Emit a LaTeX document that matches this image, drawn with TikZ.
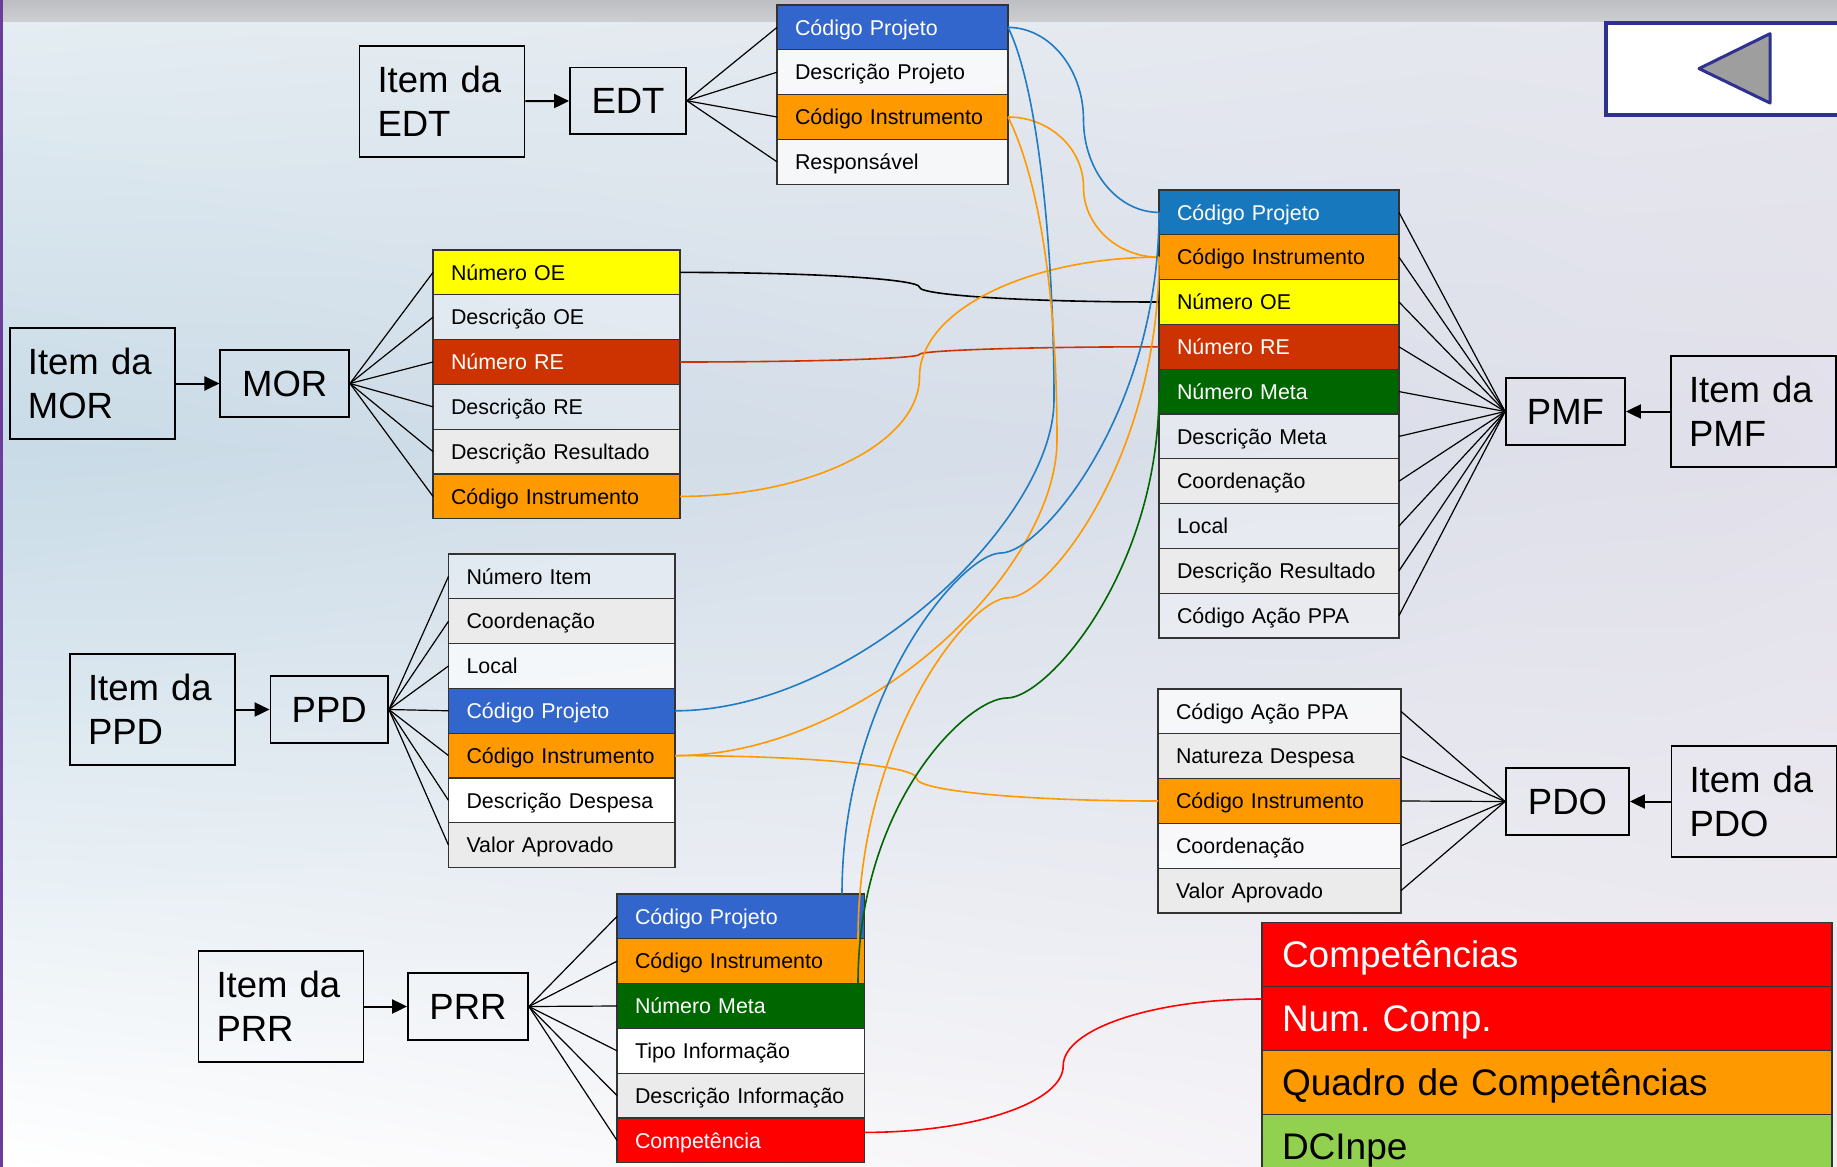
\documentclass[tikz,border=0pt]{standalone}
\usepackage{fontspec}
\setmainfont{Liberation Sans}
\usetikzlibrary{arrows.meta,shadings}
\frenchspacing
\definecolor{cpblue}{HTML}{3366CC}
\definecolor{pmfblue}{HTML}{1878BE}
\definecolor{cblue}{HTML}{1F7BC2}
\definecolor{corange}{HTML}{FF9900}
\definecolor{cyellow}{HTML}{FFFF00}
\definecolor{cre}{HTML}{CC3300}
\definecolor{cgreen}{HTML}{006600}
\definecolor{cred}{HTML}{FF0000}
\definecolor{clime}{HTML}{92D050}
\definecolor{lgray}{HTML}{EBEBEB}
\definecolor{rowline}{HTML}{333333}
\definecolor{navy}{HTML}{2E3192}
\definecolor{bgA}{HTML}{E4EDF2}
\definecolor{bgB}{HTML}{E6E6EE}
\definecolor{bgC}{HTML}{C8DBE7}
\definecolor{bgD}{HTML}{E2E0EA}
\definecolor{bgE}{HTML}{F1EEF3}
\definecolor{bandA}{HTML}{BDBEC2}
\definecolor{bandB}{HTML}{CDCED2}
\definecolor{purp}{HTML}{6A3D9A}
\newcommand\rowfont{\fontsize{21.4}{25}\selectfont}
\newcommand\bigfont{\fontsize{36.5}{44.5}\selectfont}
\newcommand\compfont{\fontsize{37}{44}\selectfont}
\begin{document}
\begin{tikzpicture}[x=1pt,y=-1pt,
  row/.style={draw=rowline, line width=1.2pt, rectangle, anchor=north west, outer sep=0pt,
    inner xsep=18pt, inner ysep=0pt, minimum height=44.8pt, text width=#1, align=left,
    text height=15.3pt, text depth=0pt, font=\rowfont},
  crow/.style={draw=rowline, line width=1.2pt, rectangle, anchor=north west, outer sep=0pt,
    inner xsep=20pt, inner ysep=0pt, minimum height=64pt, text width=530pt, align=left,
    text height=26.5pt, text depth=0pt, font=\compfont},
  tr/.style={fill=white, fill opacity=0.3, text opacity=1},
  lt/.style={fill=white, fill opacity=0.7, text opacity=1},
  itembox/.style={draw, line width=1.8pt, rectangle, minimum height=111pt, inner xsep=18pt,
    inner ysep=0pt, text width=129pt, align=left, font=\bigfont},
  mainbox/.style={draw, line width=1.8pt, rectangle, minimum width=#1, minimum height=66.5pt,
    inner xsep=0pt, text height=26.1pt, text depth=0pt, font=\bigfont},
  arr/.style={line width=2pt, -{Triangle[length=15pt,width=14pt]}},
  fan/.style={line width=1.2pt},
  conn/.style={line width=1.6pt}
]
\useasboundingbox (0,0) rectangle (1837,1167);
\clip (0,0) rectangle (1837,1167);
% background
\fill[white] (0,0) rectangle (1837,1167);
\shade[upper left=bgA, upper right=bgB, lower left=bgC, lower right=bgD] (0,21) rectangle (1837,450);
\shade[upper left=bgC, upper right=bgD, lower left=white, lower right=bgE] (0,450) rectangle (1837,1167);
\shade[top color=bandA, bottom color=bandB] (0,0) rectangle (1837,21);
\fill[purp] (0,0) rectangle (2.5,1167);

% back button
\draw[navy, line width=4pt, fill=white] (1606,22.7) rectangle (1870,114.5);
\draw[navy, line width=3pt, fill=black!38, line join=round] (1699,68.6) -- (1770,33.7) -- (1770,103) -- cycle;

% EDT table
\node[row=195pt, fill=cpblue, text=white] (eCP) at (777,5) {Código Projeto};
\node[row=195pt, lt] (eDP) at (eCP.south west) {Descrição Projeto};
\node[row=195pt, fill=corange] (eCI) at (eDP.south west) {Código Instrumento};
\node[row=195pt, lt] (eRS) at (eCI.south west) {Responsável};

% MOR table
\node[row=211pt, fill=cyellow] (mNOE) at (433,250) {Número OE};
\node[row=211pt, tr] (mDOE) at (mNOE.south west) {Descrição OE};
\node[row=211pt, fill=cre, text=white] (mNRE) at (mDOE.south west) {Número RE};
\node[row=211pt, tr] (mDRE) at (mNRE.south west) {Descrição RE};
\node[row=211pt, fill=lgray] (mDR) at (mDRE.south west) {Descrição Resultado};
\node[row=211pt, fill=corange] (mCI) at (mDR.south west) {Código Instrumento};

% PPD table
\node[row=190.5pt, tr] (dNI) at (448.5,554) {Número Item};
\node[row=190.5pt, fill=lgray] (dCO) at (dNI.south west) {Coordenação};
\node[row=190.5pt, lt] (dLO) at (dCO.south west) {Local};
\node[row=190.5pt, fill=cpblue, text=white] (dCP) at (dLO.south west) {Código Projeto};
\node[row=190.5pt, fill=corange] (dCI) at (dCP.south west) {Código Instrumento};
\node[row=190.5pt, fill=white] (dDD) at (dCI.south west) {Descrição Despesa};
\node[row=190.5pt, fill=lgray] (dVA) at (dDD.south west) {Valor Aprovado};

% PRR table
\node[row=211.5pt, fill=cpblue, text=white] (rCP) at (617,894) {Código Projeto};
\node[row=211.5pt, fill=corange] (rCI) at (rCP.south west) {Código Instrumento};
\node[row=211.5pt, fill=cgreen, text=white] (rNM) at (rCI.south west) {Número Meta};
\node[row=211.5pt, fill=white] (rTI) at (rNM.south west) {Tipo Informação};
\node[row=211.5pt, fill=lgray] (rDI) at (rTI.south west) {Descrição Informação};
\node[row=211.5pt, fill=cred, text=white] (rCOMP) at (rDI.south west) {Competência};

% PMF table
\node[row=204pt, fill=pmfblue, text=white] (pCP) at (1159,190) {Código Projeto};
\node[row=204pt, fill=corange] (pCI) at (pCP.south west) {Código Instrumento};
\node[row=204pt, fill=cyellow] (pNOE) at (pCI.south west) {Número OE};
\node[row=204pt, fill=cre, text=white] (pNRE) at (pNOE.south west) {Número RE};
\node[row=204pt, fill=cgreen, text=white] (pNM) at (pNRE.south west) {Número Meta};
\node[row=204pt, tr] (pDM) at (pNM.south west) {Descrição Meta};
\node[row=204pt, fill=lgray] (pCO) at (pDM.south west) {Coordenação};
\node[row=204pt, tr] (pLO) at (pCO.south west) {Local};
\node[row=204pt, fill=lgray] (pDR) at (pLO.south west) {Descrição Resultado};
\node[row=204pt, tr] (pCA) at (pDR.south west) {Código Ação PPA};

% PDO table
\node[row=207pt, lt] (oCA) at (1158,689) {Código Ação PPA};
\node[row=207pt, fill=lgray] (oND) at (oCA.south west) {Natureza Despesa};
\node[row=207pt, fill=corange] (oCI) at (oND.south west) {Código Instrumento};
\node[row=207pt, lt] (oCO) at (oCI.south west) {Coordenação};
\node[row=207pt, fill=lgray] (oVA) at (oCO.south west) {Valor Aprovado};

% Competencias table
\node[crow, fill=cred, text=white] (cCOMP) at (1262,922.7) {Competências};
\node[crow, fill=cred, text=white] (cNUM) at (cCOMP.south west) {Num. Comp.};
\node[crow, fill=corange] (cQUAD) at (cNUM.south west) {Quadro de Competências};
\node[crow, fill=clime] (cDC) at (cQUAD.south west) {DCInpe};

% item boxes and main boxes
\node[itembox] (iEDT) at (442,101.4) {Item da\\EDT};
\node[mainbox=116pt] (EDT) at (628,100.75) {EDT};
\node[itembox] (iMOR) at (92.4,383.5) {Item da\\MOR};
\node[mainbox=128.7pt] (MOR) at (284.7,383.5) {MOR};
\node[itembox] (iPPD) at (152.5,709.5) {Item da\\PPD};
\node[mainbox=117.5pt] (PPD) at (329.25,709.5) {PPD};
\node[itembox] (iPRR) at (281,1006.5) {Item da\\PRR};
\node[mainbox=120pt] (PRR) at (468,1006.5) {PRR};
\node[itembox] (iPMF) at (1753.5,411.5) {Item da\\PMF};
\node[mainbox=119pt] (PMF) at (1565.5,411.5) {PMF};
\node[itembox] (iPDO) at (1754,801.5) {Item da\\PDO};
\node[mainbox=123pt] (PDO) at (1567.5,801.5) {PDO};

% arrows
\draw[arr] (iEDT) -- (EDT);
\draw[arr] (iMOR) -- (MOR);
\draw[arr] (iPPD) -- (PPD);
\draw[arr] (iPRR) -- (PRR);
\draw[arr] (iPMF) -- (PMF);
\draw[arr] (iPDO) -- (PDO);

% fans
\foreach \n in {eCP,eDP,eCI,eRS} \draw[fan] (EDT.east) -- (\n.west);
\foreach \n in {mNOE,mDOE,mNRE,mDRE,mDR,mCI} \draw[fan] (MOR.east) -- (\n.west);
\foreach \n in {dNI,dCO,dLO,dCP,dCI,dDD,dVA} \draw[fan] (PPD.east) -- (\n.west);
\foreach \n in {rCP,rCI,rNM,rTI,rDI,rCOMP} \draw[fan] (PRR.east) -- (\n.west);
\foreach \n in {pCP,pCI,pNOE,pNRE,pNM,pDM,pCO,pLO,pDR,pCA} \draw[fan] (PMF.west) -- (\n.east);
\foreach \n in {oCA,oND,oCI,oCO,oVA} \draw[fan] (PDO.west) -- (\n.east);

% connector midpoints
\coordinate (m1) at (1083.5,119.8);
\coordinate (m2) at (1083.5,187.1);
\coordinate (m3) at (919.5,287.2);
\coordinate (m4) at (919.5,354.4);
\coordinate (m5) at (919.5,376.8);
\coordinate (m6) at (916.5,778.3);
\coordinate (m7) at (1063.2,1065.8);
\coordinate (m8) at (1054,400);
\coordinate (m9) at (1057,440);
\coordinate (m10) at (1001,553);
\coordinate (m11) at (1008.5,597.7);
\coordinate (m12) at (1007,698);
\coordinate (rCPtop) at ([xshift=-22.5pt]rCP.north east);
\coordinate (rCItop) at ([xshift=-6.5pt]rCI.north east);
\coordinate (rNMtop) at ([xshift=-6.5pt]rNM.north east);
\coordinate (compA) at ([yshift=8pt]rCOMP.east);
\coordinate (compB) at ([yshift=19.7pt]cNUM.west);

% connectors
\draw[conn, cblue] (eCP.east) .. controls +(41.5,0) and +(0,-50.8) .. (m1) .. controls +(0,50.8) and +(-41.5,0) .. (pCP.west);
\draw[conn, corange] (eCI.east) .. controls +(41.5,0) and +(0,-38.6) .. (m2) .. controls +(0,38.6) and +(-41.5,0) .. (pCI.west);
\draw[conn, black] (mNOE.east) .. controls +(131.7,0) and +(0,-8.1) .. (m3) .. controls +(0,8.1) and +(-131.7,0) .. (pNOE.west);
\draw[conn, cre] (mNRE.east) .. controls +(131.7,0) and +(0,4.1) .. (m4) .. controls +(0,-4.1) and +(-131.7,0) .. (pNRE.west);
\draw[conn, corange] (mCI.east) .. controls +(131.7,0) and +(0,65.8) .. (m5) .. controls +(0,-65.8) and +(-131.7,0) .. (pCI.west);
\draw[conn, corange] (dCI.east) .. controls +(132.8,0) and +(0,-12.5) .. (m6) .. controls +(0,12.5) and +(-132.8,0) .. (oCI.west);
\draw[conn, cred] (compA) .. controls +(109.3,0) and +(0,36.7) .. (m7) .. controls +(0,-36.7) and +(-109.3,0) .. (compB);
\draw[conn, cblue] (eCP.east) .. controls +(30,60) and +(0,-150) .. (m8) .. controls +(0,120) and +(180,0) .. (dCP.east);
\draw[conn, corange] (eCI.east) .. controls +(30,60) and +(0,-150) .. (m9) .. controls +(0,130) and +(190,0) .. (dCI.east);
\draw[conn, cblue] (pCP.west) .. controls +(0,200) and +(40,0) .. (m10) .. controls +(-40,0) and +(0,-200) .. (rCPtop);
\draw[conn, corange] (pCI.west) .. controls +(0,200) and +(40,0) .. (m11) .. controls +(-40,0) and +(0,-200) .. (rCItop);
\draw[conn, cgreen] (pNM.west) .. controls +(0,180) and +(40,0) .. (m12) .. controls +(-40,0) and +(0,-180) .. (rNMtop);
\end{tikzpicture}
\end{document}
